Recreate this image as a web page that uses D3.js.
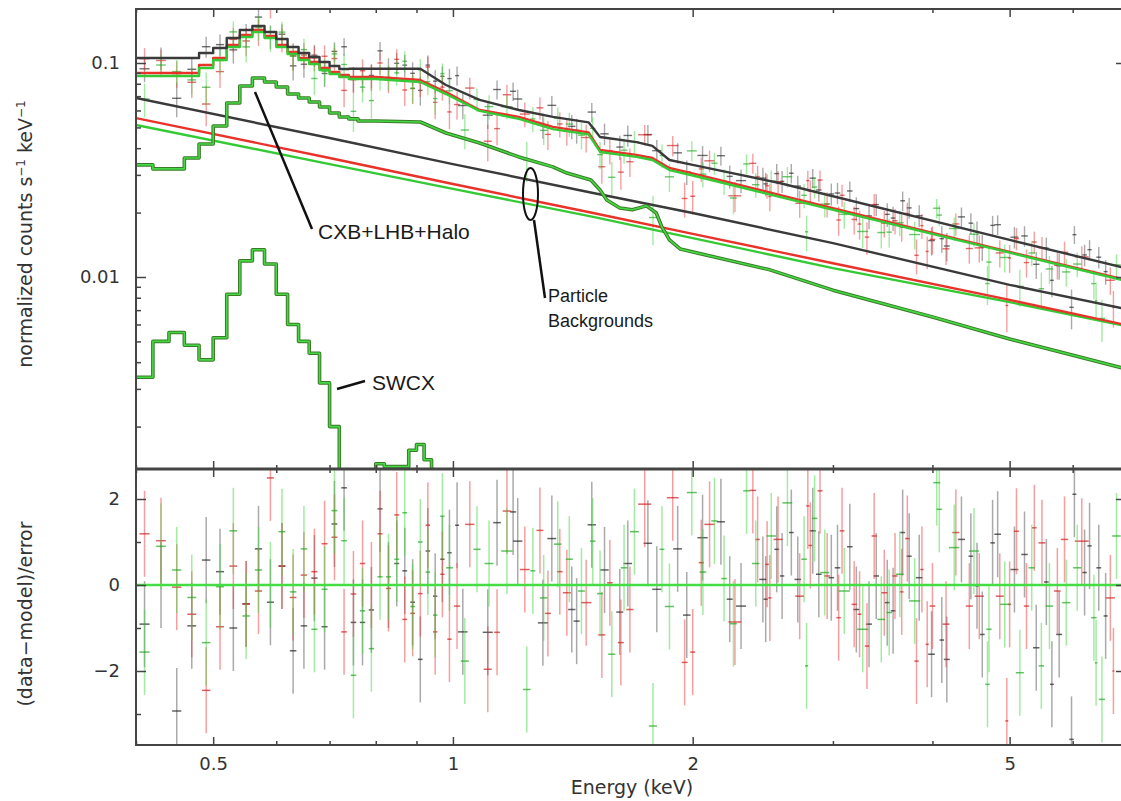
<!DOCTYPE html>
<html>
<head>
<meta charset="utf-8">
<script src="https://cdn.jsdelivr.net/npm/d3@7"></script>
<style>
body { margin: 0; background: #fff; overflow: hidden; }
svg { display: block; }
.tick text { font-family: "DejaVu Sans", sans-serif; font-size: 18px; fill: #333; }
.tick line { stroke: #444; stroke-width: 1.5; }
.title { font-family: "DejaVu Sans", sans-serif; font-size: 19px; fill: #333; }
.note { font-family: "Liberation Sans", Arial, sans-serif; font-size: 21px; fill: #1a1a1a; }
.note.small { font-size: 18px; }
</style>
</head>
<body>
<script>
// ---- tick values ----
var xMajor = [0.5, 1, 2, 5];
var xMinor = [0.4, 0.6, 0.7, 0.8, 0.9, 3, 4, 6, 7];
var yTopMajor = [0.01, 0.1];
var yTopMinor = [0.002, 0.003, 0.004, 0.005, 0.006, 0.007, 0.008, 0.009,
                 0.02, 0.03, 0.04, 0.05, 0.06, 0.07, 0.08, 0.09];
var yResMajor = [-2, 0, 2];
var yResMinor = [-3, -1, 1];

// ---- model curves: 0.02 keV steps below 0.8 keV, then points ----
var stepEdges = [0.40, 0.42, 0.44, 0.46, 0.48, 0.50, 0.52, 0.54, 0.56, 0.58, 0.60,
                 0.62, 0.64, 0.66, 0.68, 0.70, 0.72, 0.74, 0.76, 0.78, 0.80];
var totBlackStep = [0.1055, 0.1055, 0.1055, 0.1055, 0.1114, 0.1175, 0.1309, 0.1426, 0.1489, 0.1396,
                    0.1295, 0.1188, 0.1114, 0.1067, 0.1011, 0.0968, 0.0937, 0.094, 0.094, 0.094];
var totRedStep = [0.0898, 0.0898, 0.0898, 0.0898, 0.0979, 0.1055, 0.1214, 0.1351, 0.1426, 0.1337,
                  0.1214, 0.1126, 0.1055, 0.1011, 0.0948, 0.0908, 0.0879, 0.0860, 0.0860, 0.0860];
var totGreenStep = [0.0869, 0.0869, 0.0869, 0.0869, 0.0948, 0.1033, 0.1188, 0.1323, 0.1396, 0.1309,
                    0.1188, 0.1102, 0.1033, 0.0989, 0.0927, 0.0888, 0.0860, 0.0842, 0.0842, 0.0842];
var cxbStep = [0.0334, 0.0320, 0.0320, 0.0360, 0.0418, 0.0508, 0.0650, 0.0781, 0.0851, 0.0815,
               0.0772, 0.0716, 0.0686, 0.0657, 0.0623, 0.0584, 0.0559, 0.0548, 0.0536, 0.0536];

var tailE = [0.80, 0.91, 0.98, 1.08, 1.21, 1.335, 1.48, 1.53, 1.70, 1.78, 1.87, 2.0, 2.57, 5.0, 7.0];
var totBlackTail = [0.094, 0.094, 0.0789, 0.0672, 0.0603, 0.0560, 0.0528, 0.0451, 0.0427, 0.0410, 0.0352, 0.0334, 0.0275, 0.0149, 0.0110];
var totRedTail = [0.0860, 0.0833, 0.0732, 0.0603, 0.0560, 0.0503, 0.0474, 0.0392, 0.0372, 0.0360, 0.0323, 0.0305, 0.0242, 0.0131, 0.00968];
var totGreenTail = [0.0842, 0.0815, 0.0716, 0.0597, 0.0548, 0.0491, 0.0464, 0.0384, 0.0364, 0.0352, 0.0316, 0.0298, 0.0237, 0.0130, 0.00958];

var cxbTailE = [0.80, 0.91, 0.98, 1.08, 1.21, 1.335, 1.39, 1.49, 1.53, 1.56, 1.62, 1.68, 1.75, 1.80,
                1.83, 1.87, 1.93, 2.5, 3.0, 4.0, 5.0, 7.0];
var cxbTail = [0.0536, 0.0530, 0.0471, 0.0423, 0.0364, 0.0327, 0.0306, 0.0284, 0.0255, 0.0229, 0.0210,
               0.0206, 0.0215, 0.0199, 0.0171, 0.0149, 0.0135, 0.0108, 0.00868, 0.00651, 0.00513, 0.00372];

// SWCX, 0.02 keV bins from 0.40 to 0.98
var swcxEdges = [0.40, 0.42, 0.44, 0.46, 0.48, 0.50, 0.52, 0.54, 0.56, 0.58, 0.60, 0.62, 0.64, 0.66, 0.68,
                 0.70, 0.72, 0.74, 0.76, 0.78, 0.80, 0.82, 0.84, 0.86, 0.88, 0.90, 0.92, 0.94, 0.96, 0.98];
var swcxVals = [0.0034, 0.0050, 0.0055, 0.0048, 0.0041, 0.0052, 0.0083, 0.0119, 0.0134, 0.0115, 0.0083,
                0.0060, 0.0050, 0.0044, 0.0032, 0.0020, 0.0009, 0.0008, 0.0009, 0.0011, 0.00134, 0.0013,
                0.0013, 0.0013, 0.00155, 0.00165, 0.0014, 0.0009, 0.0008];

// particle backgrounds
var pbE = [0.4, 0.7, 1.0, 1.5, 2.0, 3.0, 5.0, 7.0];
var pbBlack = [0.0686, 0.0446, 0.0337, 0.0247, 0.0199, 0.0144, 0.00919, 0.00708];
var pbRed = [0.0553, 0.0360, 0.0272, 0.0199, 0.0159, 0.0116, 0.00782, 0.00597];
var pbGreen = [0.0513, 0.0337, 0.0258, 0.0191, 0.0152, 0.0110, 0.00763, 0.00590];

// ---- data: bin centres (keV) and residuals (data-model)/error ----
var eLow = [0.41, 0.43, 0.45, 0.47, 0.49, 0.51, 0.53, 0.55, 0.57, 0.59, 0.61, 0.63, 0.65, 0.67, 0.69,
            0.71, 0.73, 0.75, 0.77, 0.79, 0.81, 0.83, 0.85, 0.87, 0.89, 0.91, 0.93, 0.95, 0.97, 0.99];
var resBlackLow = [-0.91, 0.0, -2.93, -0.95, 0.58, 0.31, -1.0, -0.44, 0.84, -0.4, 0.44, -1.53, -0.95, 0.16, -0.97,
                   1.42, 2.26, -0.87, -0.87, -0.58, 1.77, 0.0, 0.5, 0.33, -0.4, -1.73, 0.79, -0.26, 0.6, 0.75];
var resRedLow = [1.19, 1.03, -0.05, -0.68, -2.45, -0.97, 0.44, -0.44, -0.14, 2.49, 0.44, -0.29, 0.23, 0.31, 0.96,
                 1.11, -1.09, -0.21, 0.5, 0.0, 1.19, -0.08, 1.63, -0.8, -0.66, -0.2, 1.39, -1.09, 0.25, -1.26];
var resGreenLow = [-1.56, 0.9, 0.35, -0.29, -1.34, -0.04, 1.26, -0.72, 0.35, 0.0, 1.24, -0.16, 0.84, -1.03, -0.1,
                   1.73, 1.03, -2.1, -0.6, -1.48, 0.19, 0.19, 0.6, 1.68, -0.5, 1.0, 0.3, -0.7, 1.6, 0.4];

var eBlackHi = [1.012, 1.029, 1.106, 1.136, 1.19, 1.206, 1.297, 1.331, 1.41, 1.43, 1.494, 1.55, 1.62, 1.658,
                1.757, 1.803, 1.915, 1.966, 2.058, 2.17, 2.226, 2.30, 2.45, 2.47, 2.55, 2.59, 2.66, 2.71, 2.83,
                2.88, 2.986, 3.04, 3.15, 3.21, 3.33, 3.40, 3.51, 3.57, 3.67, 3.74, 3.85, 3.99, 4.11, 4.17, 4.35,
                4.47, 4.55, 4.62, 4.76, 4.83, 5.07, 5.22, 5.40, 5.56, 5.65, 5.77, 5.98, 6.03, 6.21, 6.30, 6.47, 6.60];
var resBlackHi = [1.39, -1.09, -1.1, 1.45, 1.7, 1.02, -0.88, 1.08, -0.57, -0.84, 1.4, 0.35, -0.63, 0.5,
                  0.97, -0.1, 0.84, -0.7, 1.1, 1.47, -0.33, -0.49, 0.13, -0.33, 0.83, 0.21, 1.22, 0.13, 1.26,
                  0.25, 0.17, 0.4, 0.89, -0.57, -0.91, 0.21, -0.41, -0.6, 1.22, 0.67, 0.17, -1.61, -1.28, -1.73, 1.06,
                  0.67, -0.02, -1.15, 0.98, 1.18, 0.36, 0.71, -1.46, 0.07, -2.31, -1.15, -3.59, 2.11, 0.29, 0.91, 0.4, -0.72];

var eRedHi = [1.012, 1.05, 1.106, 1.136, 1.169, 1.231, 1.286, 1.316, 1.362, 1.39, 1.47, 1.538, 1.574, 1.625,
              1.668, 1.741, 1.888, 1.954, 2.0, 2.05, 2.10, 2.26, 2.38, 2.413, 2.48, 2.50, 2.56, 2.725, 2.79,
              2.81, 2.89, 2.95, 3.05, 3.08, 3.19, 3.24, 3.31, 3.38, 3.48, 3.59, 3.66, 3.72, 3.82, 3.88, 3.94,
              4.0, 4.16, 4.28, 4.45, 4.58, 4.86, 4.96, 5.0, 5.10, 5.25, 5.37, 5.49, 5.74, 5.86, 6.16, 6.69, 6.75];
var resRedHi = [-0.49, 1.41, -1.96, -1.1, 1.72, 0.36, 1.27, -0.66, 0.31, -0.18, -0.41, -1.16, 0.05, -1.34,
                -0.57, 1.88, 2.03, -1.8, -1.56, 0.52, 1.41, -0.86, 2.2, 1.06, 0.48, -0.3, 1.06, -0.26, 1.84,
                0.92, 2.19, 0.21, -0.76, 1.26, -0.45, -0.68, -1.42, 1.14, -0.18, 0.21, -0.16, 1.08, -1.77, 0.36, -1.38,
                -0.49, -0.91, 1.22, -0.49, -0.26, -0.26, -3.16, -0.45, 1.25, -0.49, 1.33, 0.98, -0.14, 1.06, 1.02, -0.3, -2.0];

var eGreenHi = [1.035, 1.072, 1.11, 1.169, 1.238, 1.26, 1.30, 1.354, 1.40, 1.45, 1.498, 1.53, 1.583, 1.64,
                1.69, 1.783, 1.83, 1.87, 1.995, 2.06, 2.13, 2.19, 2.25, 2.337, 2.40, 2.51, 2.63, 2.76, 2.78,
                2.845, 2.93, 3.10, 3.27, 3.45, 3.53, 3.64, 3.80, 4.05, 4.08, 4.26, 4.51, 4.69, 4.71, 4.93,
                5.15, 5.33, 5.48, 5.61, 5.89, 6.08, 6.38, 6.42, 6.53, 6.81];
var resGreenHi = [-1.77, 0.83, 0.5, 0.79, -2.43, 0.33, -0.3, 0.95, 0.6, -0.14, 1.02, -0.2, -1.61, 0.4,
                  1.24, -3.28, 0.83, -0.5, 2.15, 0.3, 1.49, 0.15, -0.9, 2.19, 0.5, 1.14, 1.91, 0.6, -1.88,
                  1.55, 0.29, -0.14, -1.03, -0.8, -0.64, 0.25, -0.37, 2.38, 1.76, 0.87, 0.79, -2.31, -1.03, -0.45,
                  -2.04, 0.4, -1.88, -0.49, -0.41, 0.4, -0.76, -1.81, -2.66, 1.14];

// fractional 1-sigma error of the plotted counts
var relErr = { black: 0.12, red: 0.14, green: 0.14 };

// ---- layout ----
var width = 1121, height = 801;
var left = 136, right = 1126, top0 = 9, mid = 469, bot = 745;

var x = d3.scaleLog().domain([0.4, 7]).range([left, right]);
var yTop = d3.scaleLog().domain([0.01, 0.1]).range([277, 63]);
var yRes = d3.scaleLinear().domain([-2, 2]).range([671, 499]);

var svg = d3.select("body").append("svg")
    .attr("width", width)
    .attr("height", height);

var defs = svg.append("defs");
defs.append("clipPath").attr("id", "clipTop")
    .append("rect").attr("x", left).attr("y", top0).attr("width", right - left).attr("height", mid - top0);
defs.append("clipPath").attr("id", "clipBot")
    .append("rect").attr("x", left).attr("y", mid).attr("width", right - left).attr("height", bot - mid);

function stepPts(edges, vals) {
    var p = [];
    vals.forEach(function (v, i) {
        p.push([edges[i], v]);
        p.push([edges[i + 1], v]);
    });
    return p;
}
function zipPts(es, vs) {
    return es.map(function (e, i) { return [e, vs[i]]; });
}
function modelAt(pts, e) {
    for (var i = 0; i < pts.length - 1; i++) {
        var a = pts[i], b = pts[i + 1];
        if (e >= a[0] && e <= b[0] && b[0] > a[0]) {
            var t = Math.log(e / a[0]) / Math.log(b[0] / a[0]);
            return Math.exp(Math.log(a[1]) + t * Math.log(b[1] / a[1]));
        }
    }
    return pts[pts.length - 1][1];
}

var totBlack = stepPts(stepEdges, totBlackStep).concat(zipPts(tailE, totBlackTail));
var totRed = stepPts(stepEdges, totRedStep).concat(zipPts(tailE, totRedTail));
var totGreen = stepPts(stepEdges, totGreenStep).concat(zipPts(tailE, totGreenTail));
var cxb = stepPts(stepEdges, cxbStep).concat(zipPts(cxbTailE, cxbTail));
var swcx = stepPts(swcxEdges, swcxVals);

var lineTop = d3.line()
    .x(function (d) { return x(d[0]); })
    .y(function (d) { return yTop(d[1]); });

var sets = [
    { name: "black", e: eLow.concat(eBlackHi), r: resBlackLow.concat(resBlackHi), model: totBlack,
      bar: "#555", mark: "#222" },
    { name: "red", e: eLow.concat(eRedHi), r: resRedLow.concat(resRedHi), model: totRed,
      bar: "#f04040", mark: "#d01c1c" },
    { name: "green", e: eLow.concat(eGreenHi), r: resGreenLow.concat(resGreenHi), model: totGreen,
      bar: "#48d848", mark: "#1fa81f" }
];

var gTop = svg.append("g").attr("clip-path", "url(#clipTop)");
var gBot = svg.append("g").attr("clip-path", "url(#clipBot)");

// data crosses
sets.forEach(function (s) {
    var err = relErr[s.name];
    var pts = s.e.map(function (e, i) {
        var lo = s.e[Math.max(i - 1, 0)], hi = s.e[Math.min(i + 1, s.e.length - 1)];
        var hw = 0.3 * (hi - lo) / ((i > 0 && i < s.e.length - 1) ? 2 : 1);
        var m = modelAt(s.model, e);
        return { e: e, hw: hw, r: s.r[i], m: m };
    });

    var top = gTop.append("g");
    top.selectAll("line.v").data(pts).enter().append("line")
        .attr("x1", function (d) { return x(d.e); })
        .attr("x2", function (d) { return x(d.e); })
        .attr("y1", function (d) { return yTop(d.m * (1 + (d.r - 1) * err)); })
        .attr("y2", function (d) { return yTop(d.m * (1 + (d.r + 1) * err)); })
        .attr("stroke", s.bar).attr("stroke-opacity", 0.5).attr("stroke-width", 1.4);
    top.selectAll("line.h").data(pts).enter().append("line")
        .attr("x1", function (d) { return x(d.e - d.hw); })
        .attr("x2", function (d) { return x(d.e + d.hw); })
        .attr("y1", function (d) { return yTop(d.m * (1 + d.r * err)); })
        .attr("y2", function (d) { return yTop(d.m * (1 + d.r * err)); })
        .attr("stroke", s.mark).attr("stroke-opacity", 0.65).attr("stroke-width", 1.4);

    var b = gBot.append("g");
    b.selectAll("line.v").data(pts).enter().append("line")
        .attr("x1", function (d) { return x(d.e); })
        .attr("x2", function (d) { return x(d.e); })
        .attr("y1", function (d) { return yRes(d.r - 1); })
        .attr("y2", function (d) { return yRes(d.r + 1); })
        .attr("stroke", s.bar).attr("stroke-opacity", 0.5).attr("stroke-width", 1.5);
    b.selectAll("line.h").data(pts).enter().append("line")
        .attr("x1", function (d) { return x(d.e - d.hw); })
        .attr("x2", function (d) { return x(d.e + d.hw); })
        .attr("y1", function (d) { return yRes(d.r); })
        .attr("y2", function (d) { return yRes(d.r); })
        .attr("stroke", s.mark).attr("stroke-opacity", 0.7).attr("stroke-width", 1.5);
});

// model lines
function drawLine(pts, color, w) {
    gTop.append("path").datum(pts)
        .attr("d", lineTop)
        .attr("fill", "none")
        .attr("stroke", color)
        .attr("stroke-width", w)
        .attr("stroke-linejoin", "round");
}
drawLine(zipPts(pbE, pbGreen), "#35c935", 2.4);
drawLine(zipPts(pbE, pbRed), "#e8322a", 2.4);
drawLine(zipPts(pbE, pbBlack), "#3a3a3a", 2.4);

[cxb, swcx].forEach(function (p) {
    drawLine(p, "#3b7a26", 3.6);
    drawLine(p, "#45d845", 1.6);
});

drawLine(totRed, "#e8322a", 2.4);
drawLine(totGreen, "#35c935", 2.4);
drawLine(totBlack, "#3a3a3a", 2.4);

// zero line of residuals
gBot.append("line")
    .attr("x1", left).attr("x2", right)
    .attr("y1", yRes(0)).attr("y2", yRes(0))
    .attr("stroke", "#44dd44").attr("stroke-width", 2.4);

// ---- axes (inward ticks) ----
function axis(gen, scale, vals, size, pos, labels, pad) {
    var a = gen(scale).tickValues(vals).tickSize(size).tickPadding(pad || 12)
        .tickFormat(labels ? d3.format("") : function () { return ""; });
    var g = svg.append("g").attr("transform", pos).call(a);
    g.select(".domain").remove();
    return g;
}
// top panel
axis(d3.axisTop, x, xMajor, -8, "translate(0," + top0 + ")", false);
axis(d3.axisTop, x, xMinor, -4, "translate(0," + top0 + ")", false);
axis(d3.axisBottom, x, xMajor, -8, "translate(0," + mid + ")", false);
axis(d3.axisBottom, x, xMinor, -4, "translate(0," + mid + ")", false);
axis(d3.axisLeft, yTop, yTopMajor, -10, "translate(" + left + ",0)", true, 16);
axis(d3.axisLeft, yTop, yTopMinor, -5, "translate(" + left + ",0)", false);
axis(d3.axisRight, yTop, yTopMajor, -10, "translate(" + right + ",0)", false);
axis(d3.axisRight, yTop, yTopMinor, -5, "translate(" + right + ",0)", false);
// residual panel
axis(d3.axisTop, x, xMajor, -8, "translate(0," + mid + ")", false);
axis(d3.axisTop, x, xMinor, -4, "translate(0," + mid + ")", false);
axis(d3.axisBottom, x, xMajor, -8, "translate(0," + bot + ")", true, 12);
axis(d3.axisBottom, x, xMinor, -4, "translate(0," + bot + ")", false);
axis(d3.axisLeft, yRes, yResMajor, -10, "translate(" + left + ",0)", true, 16);
axis(d3.axisLeft, yRes, yResMinor, -5, "translate(" + left + ",0)", false);
axis(d3.axisRight, yRes, yResMajor, -10, "translate(" + right + ",0)", false);
axis(d3.axisRight, yRes, yResMinor, -5, "translate(" + right + ",0)", false);

// frames
svg.append("rect").attr("x", left).attr("y", top0).attr("width", right - left).attr("height", bot - top0)
    .attr("fill", "none").attr("stroke", "#444").attr("stroke-width", 2);
svg.append("line").attr("x1", left).attr("x2", right).attr("y1", mid).attr("y2", mid)
    .attr("stroke", "#444").attr("stroke-width", 3);

// axis titles
var yt = svg.append("text").attr("class", "title")
    .attr("transform", "translate(32,234) rotate(-90)")
    .attr("text-anchor", "middle");
yt.append("tspan").text("normalized counts s");
yt.append("tspan").attr("dy", -7).attr("font-size", 12).text("\u22121");
yt.append("tspan").attr("dy", 7).text(" keV");
yt.append("tspan").attr("dy", -7).attr("font-size", 12).text("\u22121");

svg.append("text").attr("class", "title")
    .attr("transform", "translate(32,614) rotate(-90)")
    .attr("text-anchor", "middle")
    .text("(data\u2212model)/error");

svg.append("text").attr("class", "title")
    .attr("x", 632).attr("y", 794)
    .attr("text-anchor", "middle")
    .text("Energy (keV)");

// annotations
var ann = svg.append("g").attr("stroke", "#111").attr("stroke-width", 2.5).attr("fill", "none");
ann.append("line").attr("x1", 255).attr("y1", 92).attr("x2", 312).attr("y2", 229);
ann.append("ellipse").attr("cx", 530.5).attr("cy", 194).attr("rx", 7.5).attr("ry", 26).attr("stroke-width", 2);
ann.append("line").attr("x1", 534).attr("y1", 220).attr("x2", 545).attr("y2", 298);
ann.append("line").attr("x1", 337).attr("y1", 389).attr("x2", 365).attr("y2", 381);

svg.append("text").attr("class", "note").attr("x", 318).attr("y", 239).text("CXB+LHB+Halo");
svg.append("text").attr("class", "note small").attr("x", 548).attr("y", 302).text("Particle");
svg.append("text").attr("class", "note small").attr("x", 548).attr("y", 327).text("Backgrounds");
svg.append("text").attr("class", "note").attr("x", 372).attr("y", 390).text("SWCX");
</script>
</body>
</html>
